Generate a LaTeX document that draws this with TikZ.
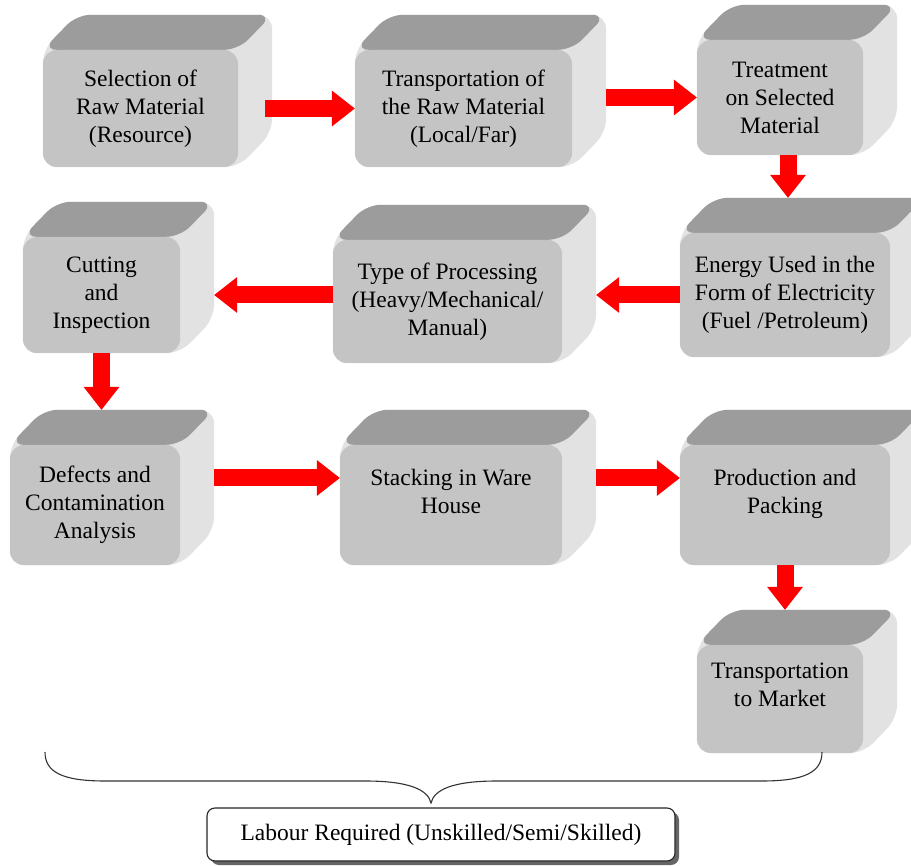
\documentclass[tikz,border=0pt]{standalone}
\usepackage{fontspec}
\setmainfont{Liberation Serif}
\usetikzlibrary{arrows.meta,positioning,calc,backgrounds,shadows}

\definecolor{frontgray}{HTML}{C4C4C4}
\definecolor{topgray}{HTML}{9C9C9C}
\definecolor{sidegray}{HTML}{E2E2E2}

\begin{document}
\begin{tikzpicture}[
  x=1pt, y=-1pt,
  box/.style={
    fill=frontgray,
    rounded corners=14pt,
    align=center,
    inner sep=0pt,
    font=\fontsize{23.5}{28}\selectfont
  },
  arr/.style={-{Triangle[length=23pt,width=36pt,line width=0pt]}, line width=17pt, red},
  note/.style={
    draw=black!85,
    line width=1.1pt,
    fill=white,
    rounded corners=8pt,
    minimum width=468pt,
    minimum height=53pt,
    drop shadow={shadow xshift=4pt, shadow yshift=-4pt, fill=black!60, opacity=1},
    font=\fontsize{23.5}{28}\selectfont
  }
]

\useasboundingbox (0,0) rectangle (911,866);

% row 1
\node[box, minimum width=195pt, minimum height=117pt] (sel) at (140.5,108.5) {Selection of\\Raw Material\\(Resource)};
\node[box, minimum width=217pt, minimum height=117pt] (tra) at (463.5,108.5) {Transportation of\\the Raw Material\\(Local/Far)};
\node[box, minimum width=166pt, minimum height=115pt] (trt) at (780,97.5) {Treatment\\on Selected\\Material};

% row 2
\node[box, minimum width=157pt, minimum height=116pt] (cut) at (101.5,295) {Cutting\\and\\Inspection};
\node[box, minimum width=229pt, minimum height=123pt] (typ) at (447.5,301.5) {Type of Processing\\(Heavy/Mechanical/\\Manual)};
\node[box, minimum width=210pt, minimum height=124pt] (ene) at (785,295) {Energy Used in the\\Form of Electricity\\(Fuel /Petroleum)};

% row 3
\node[box, minimum width=170pt, minimum height=120pt] (def) at (95,505) {Defects and\\Contamination\\Analysis};
\node[box, minimum width=222pt, minimum height=120pt] (sta) at (451,505) {Stacking in Ware\\House\\\mbox{}};
\node[box, minimum width=210pt, minimum height=120pt] (pro) at (785,505) {Production and\\Packing\\\mbox{}};

% row 4
\node[box, minimum width=166pt, minimum height=108pt] (tmk) at (780,699) {Transportation\\to Market\\\mbox{}};

\node[note] (lab) at (441,834.5) {Labour Required (Unskilled/Semi/Skilled)};

% depth of the boxes
\begin{scope}[on background layer]
\foreach \n in {sel,tra,trt,cut,typ,ene,def,sta,pro,tmk} {
  \fill[sidegray, rounded corners=14pt]
    (\n.south west) -- (\n.north west) -- ([shift={(34,-35)}]\n.north west)
    -- ([shift={(34,-35)}]\n.north east) -- ([shift={(34,-35)}]\n.south east)
    -- (\n.south east) -- cycle;
  \fill[topgray, rounded corners=14pt]
    (\n.north west) -- ([shift={(34,-35)}]\n.north west)
    -- ([shift={(34,-35)}]\n.north east) -- (\n.north east) -- cycle;
  \coordinate (\n-br) at ([xshift=34pt]\n.east);
  \coordinate (\n-bt) at ([yshift=35pt]\n.north);
}
\end{scope}

\draw[arr] ([xshift=27pt]sel.east) -- (tra.west);
\draw[arr] (tra-br |- trt.west) -- (trt.west);
\draw[arr] ([xshift=8pt]trt.south) -- ([xshift=8pt]trt.south |- ene-bt);
\draw[arr] (ene.west) -- (typ-br |- ene.west);
\draw[arr] (typ.west |- cut.east) -- (cut-br);
\draw[arr] (cut.south) -- (cut.south |- def-bt);
\draw[arr] ([yshift=27pt]def-br) -- ([yshift=27pt]sta.west);
\draw[arr] ([yshift=27pt]sta-br) -- ([yshift=27pt]pro.west);
\draw[arr] (pro.south) -- (pro.south |- tmk-bt);

% brace
\coordinate (tip) at (431,803);
\draw[black!80, line width=1.1pt]
  (45,752) .. controls (45,772) and (62,781) .. (105,781) -- (365,781)
  .. controls (410,781) and (428,790) .. (tip)
  .. controls (434,790) and (452,781) .. (497,781) -- (762,781)
  .. controls (805,781) and (822,772) .. (822,752);

\end{tikzpicture}
\end{document}
